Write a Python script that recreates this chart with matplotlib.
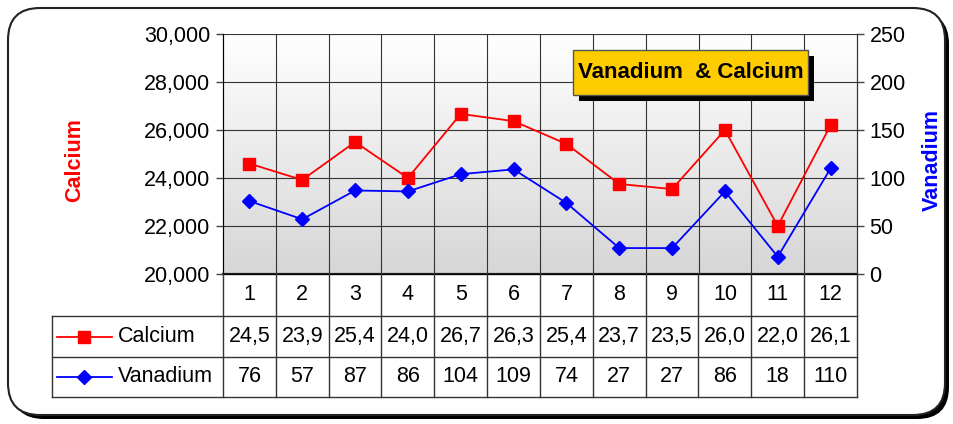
import matplotlib
import matplotlib.pyplot as plt
import numpy as np
from matplotlib.patches import FancyBboxPatch, Rectangle

matplotlib.use("Agg")

plt.rcParams["font.family"] = ["Liberation Sans", "DejaVu Sans"]

months = ["1", "2", "3", "4", "5", "6", "7", "8", "9", "10", "11", "12"]
calcium = [24600, 23920, 25500, 24000, 26670, 26370, 25420, 23750, 23540, 26000, 22000, 26200]
calcium_text = ["24,5", "23,9", "25,4", "24,0", "26,7", "26,3", "25,4", "23,7", "23,5", "26,0", "22,0", "26,1"]
vanadium = [76, 57, 87, 86, 104, 109, 74, 27, 27, 86, 18, 110]

W, H = 954, 424
FS = 15.5

fig = plt.figure(figsize=(W / 100, H / 100), dpi=100)
fig.patch.set_facecolor("white")

# overlay in pixel coords for frame, title box and table
bg = fig.add_axes([0, 0, 1, 1], zorder=0)
bg.set_xlim(0, W)
bg.set_ylim(H, 0)
bg.axis("off")
bg.add_patch(FancyBboxPatch((12, 12), W - 17, H - 17, boxstyle="round,pad=0,rounding_size=32",
                            facecolor="black", edgecolor="black", lw=0))
bg.add_patch(FancyBboxPatch((8, 8), W - 17, H - 17, boxstyle="round,pad=0,rounding_size=32",
                            facecolor="white", edgecolor="#222222", lw=1.5))

L, R, T, B = 223, 857, 34, 274
ax = fig.add_axes([L / W, 1 - B / H, (R - L) / W, (B - T) / H], zorder=2)
x = np.arange(len(months))

# gradient background
grad = np.linspace(0, 1, 256).reshape(-1, 1)
ax.imshow(grad, extent=(-0.5, 11.5, 20000, 30000), aspect="auto",
          cmap=matplotlib.colors.LinearSegmentedColormap.from_list("g", ["#ffffff", "#d6d6d6"]),
          origin="upper", zorder=0)

ax.plot(x, calcium, color="red", lw=1.3, marker="s", ms=8, mec="red", mfc="red", zorder=5, clip_on=False)
ax.set_xlim(-0.5, 11.5)
ax.set_ylim(20000, 30000)
ax.set_yticks(np.arange(20000, 30001, 2000))
ax.set_yticklabels([f"{v:,}" for v in range(20000, 30001, 2000)], fontsize=FS)
ax.tick_params(axis="y", direction="out", length=5, width=1, color="#444444", pad=4)
ax.set_xticks([])
ax.set_xticks(np.arange(0.5, 11.5, 1), minor=True)
ax.tick_params(axis="x", which="both", length=0, labelbottom=False)
ax.grid(True, axis="y", which="major", color="#333333", lw=0.8, zorder=1)
ax.grid(True, axis="x", which="minor", color="#333333", lw=0.8, zorder=1)
ax.set_axisbelow(False)
ax.spines["top"].set_visible(False)
ax.spines["left"].set_color("#333333")
ax.spines["bottom"].set_color("#222222")
ax.spines["bottom"].set_linewidth(1.6)
ax.spines["right"].set_color("#333333")

ax2 = ax.twinx()
ax2.plot(x, vanadium, color="blue", lw=1.3, marker="D", ms=7, mec="blue", mfc="blue", zorder=5, clip_on=False)
ax2.set_ylim(0, 250)
ax2.set_yticks(np.arange(0, 251, 50))
ax2.tick_params(axis="y", direction="out", length=5, width=1, color="#444444", labelsize=FS, pad=4)
ax2.spines["top"].set_visible(False)
ax2.spines["right"].set_color("#333333")
ax2.set_xlim(-0.5, 11.5)

fig.text(75 / W, 1 - 160 / H, "Calcium", rotation=90, color="red", fontsize=FS, fontweight="bold",
         ha="center", va="center")
fig.text(932 / W, 1 - 160 / H, "Vanadium", rotation=90, color="blue", fontsize=FS, fontweight="bold",
         ha="center", va="center")

# title box
tb = fig.add_axes([0, 0, 1, 1], zorder=4)
tb.set_xlim(0, W)
tb.set_ylim(H, 0)
tb.axis("off")
tb.add_patch(Rectangle((579, 56), 235, 45, facecolor="black", edgecolor="none"))
tb.add_patch(Rectangle((573, 50), 235, 45, facecolor="#ffcc00", edgecolor="#555555", lw=1))
tb.text(691, 73, "Vanadium  & Calcium", fontsize=16, fontweight="bold", ha="center", va="center")

# data table
edges = L + np.arange(len(months) + 1) * (R - L) / len(months)
centers = (edges[:-1] + edges[1:]) / 2
r0, r1, r2, r3 = 274, 316, 357, 397
lc = "#333333"
for e in edges:
    tb.plot([e, e], [r0, r3], color=lc, lw=1)
tb.plot([52, R], [r1, r1], color=lc, lw=1)
tb.plot([52, R], [r2, r2], color=lc, lw=1)
tb.plot([52, R], [r3, r3], color=lc, lw=1)
tb.plot([52, 52], [r1, r3], color=lc, lw=1)
for cx, m, c, v in zip(centers, months, calcium_text, vanadium):
    tb.text(cx, (r0 + r1) / 2, m, fontsize=FS, ha="center", va="center")
    tb.text(cx, (r1 + r2) / 2, c, fontsize=FS, ha="center", va="center")
    tb.text(cx, (r2 + r3) / 2, str(v), fontsize=FS, ha="center", va="center")
tb.plot([57, 112], [(r1 + r2) / 2] * 2, color="red", lw=1.3)
tb.plot([84], [(r1 + r2) / 2], marker="s", ms=8, color="red")
tb.plot([57, 112], [(r2 + r3) / 2] * 2, color="blue", lw=1.3)
tb.plot([84], [(r2 + r3) / 2], marker="D", ms=7, color="blue")
tb.text(118, (r1 + r2) / 2, "Calcium", fontsize=FS, ha="left", va="center")
tb.text(118, (r2 + r3) / 2, "Vanadium", fontsize=FS, ha="left", va="center")

fig.savefig("out.png", dpi=100)
